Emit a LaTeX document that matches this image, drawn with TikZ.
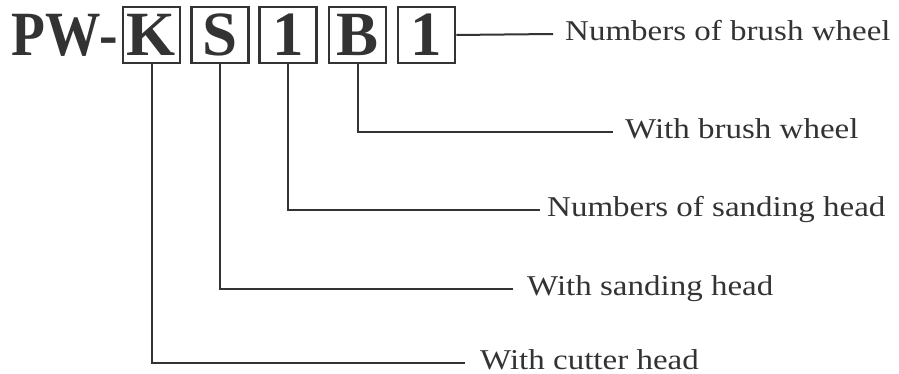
\documentclass[tikz,border=0pt]{standalone}
\usepackage{fontspec}
\setmainfont{Liberation Serif}
\newfontfamily\labelfont[FakeStretch=1.15]{Liberation Serif}
\newfontfamily\brandfont[FakeStretch=0.88]{Liberation Serif}
\begin{document}
\begin{tikzpicture}[x=1pt,y=-1pt,
        codebox/.style={draw=black!80, text=black!80, line width=2.6pt, minimum width=57pt, minimum height=56pt, inner sep=0pt, font=\fontsize{63}{63}\selectfont\bfseries},
        leader/.style={draw=black!80, line width=2pt},
        desc/.style={anchor=west, inner ysep=0pt, text height=13pt, text depth=0pt, text=black!80, font=\labelfont\fontsize{28.7}{30}\selectfont}]
        \useasboundingbox (0,0) rectangle (899,374);

            % model code
            \node [codebox] (K) at (151.5,35) {K};
            \node [codebox] (S) at (220,35) {S};
            \node [codebox] (N1) at (288,35) {1};
            \node [codebox] (B) at (357.5,35) {B};
            \node [codebox] (N2) at (426.5,35) {1};
            \node [anchor=east, inner sep=4pt, text=black!80, font=\brandfont\fontsize{63}{63}\selectfont\bfseries] (PW) at (K.west) {PW-};

            % descriptions
            \node [desc, inner xsep=12pt] (brushnum) at (553,34) {Numbers of brush wheel};
            \node [desc, inner xsep=12pt] (brush) at (613,132) {With brush wheel};
            \node [desc, inner xsep=7pt] (sandnum) at (540,210) {Numbers of sanding head};
            \node [desc, inner xsep=14pt] (sand) at (513,289) {With sanding head};
            \node [desc, inner xsep=15pt] (cutter) at (465,363) {With cutter head};

      \draw [leader] (N2.east) -- (brushnum.west);
      \draw [leader] (B.south) |- (brush.west);
      \draw [leader] (N1.south) |- (sandnum.west);
      \draw [leader] (S.south) |- (sand.west);
      \draw [leader] (K.south) |- (cutter.west);

      \end{tikzpicture}
\end{document}
